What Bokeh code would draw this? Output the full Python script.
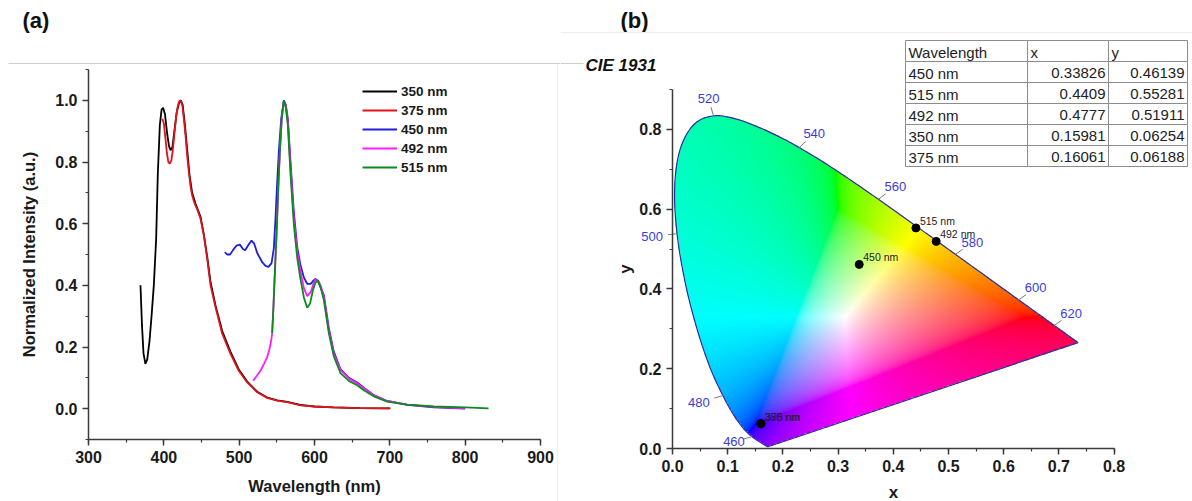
import numpy as np
from bokeh.plotting import figure
from bokeh.layouts import row
from bokeh.models import (Range1d, Legend, LegendItem, SingleIntervalTicker,
                          PrintfTickFormatter)
from bokeh.core.properties import value
from bokeh.embed import file_html
from bokeh.resources import INLINE

FONT = "Liberation Sans"

# ---------------- emission spectra (normalized) ----------------
wl_350 = [369, 371, 373, 375.5, 378, 381, 384, 386.7, 389.8, 392, 394.7, 397, 399, 401.5,
          404.5, 407, 409, 411.5, 414, 417, 420, 422.5, 425, 428, 431, 434, 437.6, 442,
          448.7, 453, 457.6, 462, 468.6, 477.5, 488.5, 499.5, 510.7, 524, 537.2, 550.5,
          563.8, 581, 600, 625, 660, 700]
int_350 = [0.40, 0.27, 0.18, 0.145, 0.16, 0.22, 0.31, 0.40, 0.55, 0.76, 0.92, 0.97, 0.976,
           0.955, 0.89, 0.85, 0.838, 0.85, 0.90, 0.96, 0.99, 1.0, 0.985, 0.92, 0.84, 0.76,
           0.70, 0.665, 0.622, 0.567, 0.492, 0.41, 0.335, 0.252, 0.184, 0.127, 0.088,
           0.055, 0.036, 0.027, 0.022, 0.012, 0.007, 0.004, 0.002, 0.001]

wl_375 = [398, 400, 402, 404, 406, 408, 410, 412, 414, 416, 418, 420, 422.1, 424.5, 427,
          428.8, 431, 433.2, 435.5, 437.6, 440, 442, 445, 448.7, 453, 457.6, 462, 468.6,
          477.5, 488.5, 499.5, 510.7, 524, 537.2, 550.5, 563.8, 581.4, 600, 625.6, 660, 700.9]
int_375 = [0.94, 0.925, 0.88, 0.83, 0.80, 0.795, 0.805, 0.84, 0.89, 0.94, 0.975, 0.995, 1.0,
           0.985, 0.93, 0.886, 0.82, 0.767, 0.72, 0.692, 0.672, 0.659, 0.642, 0.616, 0.562,
           0.486, 0.40, 0.329, 0.243, 0.178, 0.123, 0.085, 0.053, 0.035, 0.026, 0.021,
           0.011, 0.007, 0.004, 0.002, 0.001]

wl_450 = [481, 484, 488, 492, 496.5, 501, 505, 508, 512, 516.4, 520, 524, 530.6, 535, 539,
          543, 546, 548.2, 550.2, 552.6, 555.8, 559.3, 562, 564.6, 568.2, 572.5, 577, 581.4,
          586, 590.3, 595, 598.5, 601.3, 604, 607, 612.4, 619, 625.6, 634.5, 645.6, 656.7,
          665.5, 678.7, 696.5, 723, 758.4, 800]
int_450 = [0.508, 0.50, 0.50, 0.515, 0.529, 0.532, 0.518, 0.514, 0.53, 0.545, 0.535, 0.505,
           0.475, 0.463, 0.46, 0.472, 0.52, 0.616, 0.72, 0.832, 0.94, 1.0, 0.985, 0.94, 0.80,
           0.64, 0.525, 0.465, 0.425, 0.405, 0.405, 0.415, 0.421, 0.415, 0.40, 0.368, 0.262,
           0.185, 0.128, 0.10, 0.085, 0.068, 0.044, 0.025, 0.012, 0.004, 0.0]

wl_492 = [518.6, 523, 528.3, 533, 537.2, 540, 542.5, 543.8, 545.5, 547, 549.5, 552, 554,
          556.5, 559.3, 562, 564.6, 568.2, 572.5, 577, 581.4, 586, 590.3, 595, 598.5, 601.3,
          605, 608, 612.4, 619, 625.6, 634.5, 645.6, 656.7, 665.5, 678.7, 696.5, 723, 758.4, 800]
int_492 = [0.091, 0.105, 0.123, 0.145, 0.167, 0.19, 0.221, 0.245, 0.33, 0.42, 0.56, 0.72,
           0.832, 0.94, 1.0, 0.98, 0.93, 0.78, 0.62, 0.51, 0.445, 0.39, 0.365, 0.378, 0.405,
           0.418, 0.415, 0.40, 0.36, 0.255, 0.178, 0.125, 0.098, 0.082, 0.066, 0.043, 0.025,
           0.013, 0.006, 0.001]

wl_515 = [543.8, 545.5, 547, 549.5, 552, 554, 556.5, 559.3, 562, 564.6, 568.2, 572.5, 577,
          581.4, 586, 590.3, 594, 598, 601, 604.4, 608, 612.4, 619, 625.6, 634.5, 645.6,
          656.7, 665.5, 678.7, 696.5, 723, 758.4, 800, 831]
int_515 = [0.245, 0.33, 0.42, 0.56, 0.72, 0.832, 0.94, 1.0, 0.975, 0.92, 0.76, 0.60, 0.49,
           0.42, 0.36, 0.327, 0.34, 0.385, 0.408, 0.416, 0.395, 0.352, 0.245, 0.17, 0.115,
           0.09, 0.076, 0.06, 0.04, 0.023, 0.013, 0.007, 0.004, 0.001]

series_names = ["350 nm", "375 nm", "450 nm", "492 nm", "515 nm"]
series_colors = ["#000000", "#e3121b", "#1e1edc", "#ff1dff", "#0b8a1e"]
series_wl = [wl_350, wl_375, wl_450, wl_492, wl_515]
series_int = [int_350, int_375, int_450, int_492, int_515]

# ---------------- CIE 1931 chromaticity ----------------
cie_names = ["450 nm", "515 nm", "492 nm", "350 nm", "375 nm"]
cie_x = [0.33826, 0.4409, 0.4777, 0.15981, 0.16061]
cie_y = [0.46139, 0.55281, 0.51911, 0.06254, 0.06188]

# spectral locus, 2-degree observer, 380-700 nm in 5 nm steps
locus_nm = list(range(380, 705, 5))
locus_x = [0.1741, 0.1740, 0.1738, 0.1736, 0.1733, 0.1730, 0.1726, 0.1721, 0.1714, 0.1703,
           0.1689, 0.1669, 0.1644, 0.1611, 0.1566, 0.1510, 0.1440, 0.1355, 0.1241, 0.1096,
           0.0913, 0.0687, 0.0454, 0.0235, 0.0082, 0.0039, 0.0139, 0.0389, 0.0743, 0.1142,
           0.1547, 0.1929, 0.2296, 0.2658, 0.3016, 0.3373, 0.3731, 0.4087, 0.4441, 0.4788,
           0.5125, 0.5448, 0.5752, 0.6029, 0.6270, 0.6482, 0.6658, 0.6801, 0.6915, 0.7006,
           0.7079, 0.7140, 0.7190, 0.7230, 0.7260, 0.7283, 0.7300, 0.7311, 0.7320, 0.7327,
           0.7334, 0.7340, 0.7344, 0.7346, 0.7347]
locus_y = [0.0050, 0.0050, 0.0049, 0.0049, 0.0048, 0.0048, 0.0048, 0.0048, 0.0051, 0.0058,
           0.0069, 0.0086, 0.0109, 0.0138, 0.0177, 0.0227, 0.0297, 0.0399, 0.0578, 0.0868,
           0.1327, 0.2007, 0.2950, 0.4127, 0.5384, 0.6548, 0.7502, 0.8120, 0.8338, 0.8262,
           0.8059, 0.7816, 0.7543, 0.7243, 0.6923, 0.6589, 0.6245, 0.5896, 0.5547, 0.5202,
           0.4866, 0.4544, 0.4242, 0.3965, 0.3725, 0.3514, 0.3340, 0.3197, 0.3083, 0.2993,
           0.2920, 0.2859, 0.2809, 0.2770, 0.2740, 0.2717, 0.2700, 0.2689, 0.2680, 0.2673,
           0.2666, 0.2660, 0.2656, 0.2654, 0.2653]
locus_marks = [460, 480, 500, 520, 540, 560, 580, 600, 620]

table_header = ["Wavelength", "x", "y"]

# ---------------- page geometry (px) ----------------
PAGE_H = 501
A_W = 560                       # panel (a) canvas width
A_X0, A_Y0 = 88, 439            # pixel position of (300 nm, -0.1)
A_KX, A_KY = 452 / 600, 370 / 1.2

B_OFF, B_W = 560, 632           # panel (b) canvas offset / width
B_X0, B_Y0 = 672, 448           # pixel position of chromaticity origin
SX, SY = 552.0, 399.0           # px per chromaticity unit

# wavelength-mark label offsets from the locus (px, screen y down)
mark_offsets = {460: (-18, 5), 480: (-24, 7), 500: (-25, 3), 520: (-5, -17),
                540: (15, -14), 560: (17, -13), 580: (17, -12), 600: (17, -12),
                620: (17, -12)}


def a_pos(px, py):
    return 300 + (px - A_X0) / A_KX, -0.1 + (A_Y0 - py) / A_KY


def b_pos(px, py):
    return (px - B_X0) / SX, (B_Y0 - py) / SY


def style_axis(ax, label_size="16px"):
    ax.axis_line_color = "#3a3a3a"
    ax.axis_line_width = 1.5
    ax.major_tick_line_color = "#3a3a3a"
    ax.minor_tick_line_color = "#3a3a3a"
    ax.major_tick_line_width = 1.5
    ax.minor_tick_line_width = 1.2
    ax.major_tick_out = 6
    ax.major_tick_in = 0
    ax.minor_tick_out = 3
    ax.minor_tick_in = 0
    ax.major_label_text_font = FONT
    ax.major_label_text_font_style = "bold"
    ax.major_label_text_font_size = "16px"
    ax.major_label_text_color = "#1a1a1a"
    ax.axis_label_text_font = FONT
    ax.axis_label_text_font_style = "bold"
    ax.axis_label_text_font_size = label_size
    ax.axis_label_text_color = "#1a1a1a"


def label(p, px, py, pos, text, size, style="normal", color="#111111", align="left"):
    x, y = pos(px, py)
    p.text(x=[x], y=[y], text=[text], text_font=value(FONT), text_font_size=size,
           text_font_style=style, text_color=color, text_align=align,
           text_baseline="middle")


def hline(p, pos, px0, px1, py, color):
    x0, y0 = pos(px0, py)
    x1, y1 = pos(px1, py)
    p.line([x0, x1], [y0, y1], line_color=color, line_width=1.2)


# ================= panel (a): spectra =================
ax0, ay0 = a_pos(0, PAGE_H)
ax1, ay1 = a_pos(A_W, 0)
pa = figure(width=A_W, height=PAGE_H, x_range=Range1d(ax0, ax1), y_range=Range1d(ay0, ay1),
            output_backend="svg", toolbar_location=None,
            min_border_left=0, min_border_right=0, min_border_top=0, min_border_bottom=0)
pa.grid.visible = False
pa.outline_line_color = None
pa.xaxis.ticker = SingleIntervalTicker(interval=100, num_minor_ticks=2)
pa.yaxis.ticker = SingleIntervalTicker(interval=0.2, num_minor_ticks=2)
pa.yaxis.formatter = PrintfTickFormatter(format="%.1f")
pa.xaxis.fixed_location = -0.1
pa.yaxis.fixed_location = 300
pa.xaxis.bounds = (300, 900)
pa.yaxis.bounds = (-0.1, 1.1)
pa.xaxis.axis_label = "Wavelength (nm)"
pa.yaxis.axis_label = "Normalized Intensity (a.u.)"
style_axis(pa.xaxis[0], "16.5px")
style_axis(pa.yaxis[0], "16.5px")
pa.yaxis.axis_label_standoff = 14
pa.xaxis.axis_label_standoff = 11

items = []
for name, col, wl, it in zip(series_names, series_colors, series_wl, series_int):
    r = pa.line(wl, it, line_color=col, line_width=1.8)
    items.append(LegendItem(label=name, renderers=[r]))

legend = Legend(items=items, location=(362, 326), border_line_color=None,
                background_fill_alpha=0, padding=0, margin=0, spacing=3,
                glyph_width=35, glyph_height=16, label_height=16, label_standoff=4,
                label_text_font=FONT, label_text_font_style="bold",
                label_text_font_size="13.5px", label_text_color="#1a1a1a")
pa.add_layout(legend)

label(pa, 22, 20, a_pos, "(a)", "22px", "bold")
hline(pa, a_pos, 8, A_W, 63, "#cccccc")
va0 = a_pos(557, 63)
va1 = a_pos(557, PAGE_H)
pa.line([va0[0], va1[0]], [va0[1], va1[1]], line_color="#ededed", line_width=1)

# ================= panel (b): CIE 1931 diagram =================
bx0, by0 = b_pos(B_OFF, PAGE_H)
bx1, by1 = b_pos(B_OFF + B_W, 0)
pb = figure(width=B_W, height=PAGE_H, x_range=Range1d(bx0, bx1), y_range=Range1d(by0, by1),
            output_backend="svg", toolbar_location=None,
            min_border_left=0, min_border_right=0, min_border_top=0, min_border_bottom=0)
pb.grid.visible = False
pb.outline_line_color = None
pb.xaxis.ticker = SingleIntervalTicker(interval=0.1, num_minor_ticks=2)
pb.yaxis.ticker = SingleIntervalTicker(interval=0.2, num_minor_ticks=2)
pb.xaxis.formatter = PrintfTickFormatter(format="%.1f")
pb.yaxis.formatter = PrintfTickFormatter(format="%.1f")
pb.xaxis.fixed_location = 0
pb.yaxis.fixed_location = 0
pb.xaxis.bounds = (0, 0.8)
pb.yaxis.bounds = (0, 0.9)
pb.xaxis.axis_label = "x"
pb.yaxis.axis_label = "y"
style_axis(pb.xaxis[0], "17px")
style_axis(pb.yaxis[0], "17px")
pb.xaxis.axis_label_standoff = 8
pb.yaxis.axis_label_standoff = 1

# smooth outline through the locus samples (Catmull-Rom, in pixel space)
P = np.column_stack([np.array(locus_x) * SX, np.array(locus_y) * SY])
Pp = np.vstack([2 * P[0] - P[1], P, 2 * P[-1] - P[-2]])
seg = []
for i in range(1, len(Pp) - 2):
    p0, p1, p2, p3 = Pp[i - 1], Pp[i], Pp[i + 1], Pp[i + 2]
    for t in np.linspace(0, 1, 8, endpoint=False):
        seg.append(0.5 * ((2 * p1) + (-p0 + p2) * t + (2 * p0 - 5 * p1 + 4 * p2 - p3) * t ** 2
                          + (-p0 + 3 * p1 - 3 * p2 + p3) * t ** 3))
seg.append(P[-1])
seg = np.array(seg)
sm_x = seg[:, 0] / SX
sm_y = seg[:, 1] / SY

# colour-filled gamut
GX, GY = 0.75, 0.85
nx, ny = 600, 510
gx = (np.arange(nx) + 0.5) / nx * GX
gy = (np.arange(ny) + 0.5) / ny * GY
X, Y = np.meshgrid(gx, gy)
inside = np.zeros(X.shape, dtype=bool)
for j in range(len(sm_x)):
    xi, yi = sm_x[j], sm_y[j]
    xk, yk = sm_x[j - 1], sm_y[j - 1]
    cross = (yi > Y) != (yk > Y)
    xint = (xk - xi) * (Y - yi) / ((yk - yi) if yk != yi else 1e-12) + xi
    inside ^= cross & (X < xint)
Yc = np.maximum(Y, 1e-6)
xyz = np.stack([X / Yc, np.ones_like(X), (1 - X - Y) / Yc], axis=-1)
M = np.array([[3.2406, -1.5372, -0.4986],
              [-0.9689, 1.8758, 0.0415],
              [0.0557, -0.2040, 1.0570]])
rgb = xyz @ M.T
rgb = rgb - np.minimum(rgb.min(axis=-1, keepdims=True), 0)
rgb = rgb / np.maximum(rgb.max(axis=-1, keepdims=True), 1e-9)
rgb = np.where(rgb <= 0.0031308, 12.92 * rgb, 1.055 * np.power(rgb, 1 / 2.4) - 0.055)
img = np.zeros((ny, nx, 4), dtype=np.uint8)
img[..., :3] = np.clip(rgb * 255, 0, 255).astype(np.uint8)
img[..., 3] = np.where(inside, 255, 0).astype(np.uint8)
img32 = img.view(dtype=np.uint32).reshape((ny, nx))
pb.image_rgba(image=[img32], x=0, y=0, dw=GX, dh=GY)

pb.patch(list(sm_x), list(sm_y), fill_color=None, line_color="#2c2c9c", line_width=1.2)

# wavelength marks on the locus
tk_x0, tk_y0, tk_x1, tk_y1 = [], [], [], []
mk_x, mk_y, mk_t = [], [], []
for w in locus_marks:
    i = locus_nm.index(w)
    ox, oy = mark_offsets[w]
    dist = np.hypot(ox, oy)
    tk_x0.append(locus_x[i]); tk_y0.append(locus_y[i])
    tk_x1.append(locus_x[i] + 9 * ox / dist / SX)
    tk_y1.append(locus_y[i] - 9 * oy / dist / SY)
    mk_x.append(locus_x[i] + ox / SX)
    mk_y.append(locus_y[i] - oy / SY)
    mk_t.append(str(w))
pb.segment(x0=tk_x0, y0=tk_y0, x1=tk_x1, y1=tk_y1, line_color="#7a7a7a", line_width=1)
pb.text(x=mk_x, y=mk_y, text=mk_t, text_font=value(FONT), text_font_size="13px",
        text_color="#3b3bdc", text_align="center", text_baseline="middle")

pb.scatter(cie_x, cie_y, size=8, color="#000000")
pb.text(x=cie_x, y=cie_y, text=cie_names, x_offset=4, y_offset=-7,
        text_font=value(FONT), text_font_size="10.5px", text_color="#222222",
        text_baseline="middle", text_align="left")

# coordinate table
col_px = [905, 1027, 1108, 1187]
row_top, row_h = 40, 21
rows = [table_header] + [[nm, str(xv), str(yv)] for nm, xv, yv in zip(cie_names, cie_x, cie_y)]
qx0, qx1, qy0, qy1 = [], [], [], []
for r_i in range(len(rows)):
    for c_i in range(3):
        a0, b0 = b_pos(col_px[c_i], row_top + r_i * row_h)
        a1, b1 = b_pos(col_px[c_i + 1], row_top + (r_i + 1) * row_h)
        qx0.append(a0); qx1.append(a1); qy0.append(b1); qy1.append(b0)
pb.quad(left=qx0, right=qx1, bottom=qy0, top=qy1, fill_color="#ffffff",
        line_color="#8c8c8c", line_width=1)
tx_l, ty_l, tt_l, tx_r, ty_r, tt_r = [], [], [], [], [], []
for r_i, cells in enumerate(rows):
    cy = row_top + (r_i + 0.5) * row_h + 1
    for c_i, txt in enumerate(cells):
        if r_i == 0 or c_i == 0:
            a, b = b_pos(col_px[c_i] + 3, cy)
            tx_l.append(a); ty_l.append(b); tt_l.append(txt)
        else:
            a, b = b_pos(col_px[c_i + 1] - 3, cy)
            tx_r.append(a); ty_r.append(b); tt_r.append(txt)
pb.text(x=tx_l, y=ty_l, text=tt_l, text_font=value(FONT), text_font_size="15px",
        text_color="#222222", text_align="left", text_baseline="middle")
pb.text(x=tx_r, y=ty_r, text=tt_r, text_font=value(FONT), text_font_size="15px",
        text_color="#222222", text_align="right", text_baseline="middle")

label(pb, 585, 65, b_pos, "CIE 1931", "17px", "bold italic")
label(pb, 620, 20, b_pos, "(b)", "22px", "bold")
hline(pb, b_pos, B_OFF, 583, 63, "#cccccc")
hline(pb, b_pos, B_OFF, B_OFF + B_W, 32, "#ededed")

layout = row(pa, pb, spacing=0)
with open("out.html", "w") as f:
    f.write(file_html(layout, INLINE))
